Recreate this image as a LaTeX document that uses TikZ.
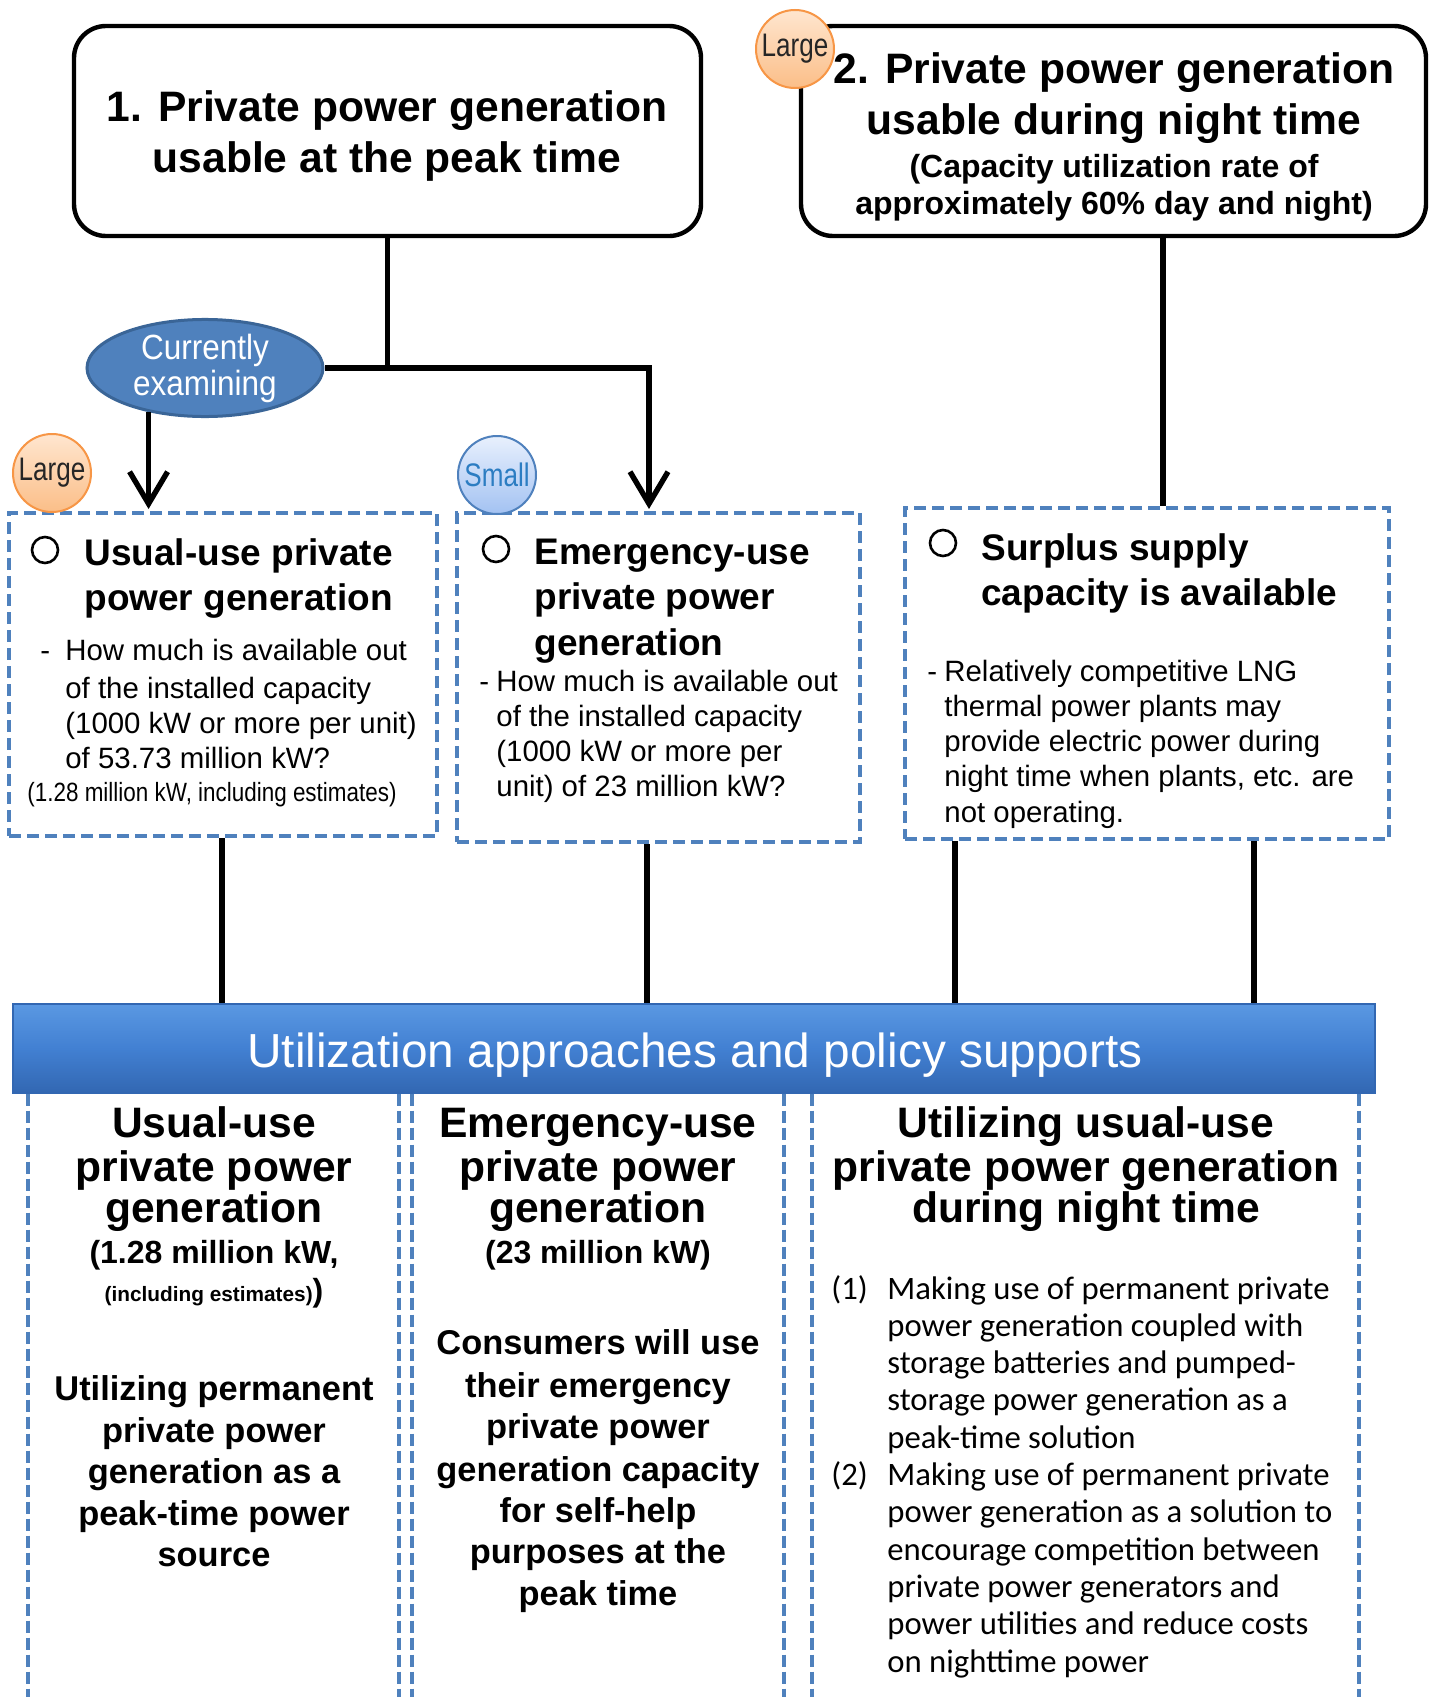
\documentclass[tikz,border=0pt]{standalone}
\usepackage{fontspec}
\setmainfont{Liberation Sans}
\newfontfamily\narrowfont[FakeStretch=0.8]{Liberation Sans}
\newfontfamily\narrowB[FakeStretch=0.85]{Liberation Sans}
\newfontfamily\ellfont[FakeStretch=0.9]{Liberation Sans}
\newfontfamily\calfont{Carlito}
\usetikzlibrary{arrows.meta,shapes.geometric}
\definecolor{dblue}{HTML}{4F81BD}
\definecolor{eborder}{HTML}{3A6597}
\definecolor{orng}{HTML}{F79646}
\definecolor{orngtop}{HTML}{FFE6CF}
\definecolor{orngbot}{HTML}{FBBE88}
\definecolor{bluetop}{HTML}{E8F0FD}
\definecolor{bluebot}{HTML}{A3C2F2}
\definecolor{smalltxt}{HTML}{2C7DC2}
\definecolor{bantop}{HTML}{5A98E2}
\definecolor{banmid}{HTML}{4280D2}
\definecolor{banbot}{HTML}{3267B2}
\tikzset{
  title/.style={font=\fontsize{21.3pt}{25pt}\selectfont\bfseries, anchor=base, inner sep=0pt},
  subtitle/.style={font=\fontsize{16pt}{19pt}\selectfont\bfseries, anchor=base, inner sep=0pt},
  head/.style={font=\fontsize{18.5pt}{22pt}\selectfont\bfseries, anchor=base west, inner sep=0pt},
  body/.style={font=\fontsize{14.7pt}{17pt}\selectfont, anchor=base west, inner sep=0pt},
  colbody/.style={font=\fontsize{17.2pt}{20pt}\selectfont\bfseries, anchor=base, inner sep=0pt},
  listtxt/.style={font=\calfont\fontsize{16.35pt}{19pt}\selectfont, anchor=base west, inner sep=0pt},
  bigbox/.style={draw, line width=2.2pt, rounded corners=16pt, fill=white, inner sep=0pt},
  dbox/.style={draw=dblue, line width=2pt, dash pattern=on 6pt off 3pt, inner sep=0pt},
  bullet/.style={circle, draw, line width=1.3pt, minimum size=13pt, inner sep=0pt},
  conn/.style={line width=2.7pt},
  arr/.style={conn, -{Straight Barb[length=16pt,width=19pt]}, shorten >=1pt},
  coldash/.style={draw=dblue, line width=1.6pt, dash pattern=on 6pt off 2.5pt},
  sizebadge/.style={circle, minimum size=39pt, inner sep=0pt, line width=1pt,
    font=\narrowfont\fontsize{16.3pt}{18pt}\selectfont},
  large/.style={sizebadge, draw=orng, top color=orngtop, bottom color=orngbot, text=black!85},
  small/.style={sizebadge, draw=dblue, top color=bluetop, bottom color=bluebot, text=smalltxt},
}
\begin{document}
\begin{tikzpicture}[x=0.5pt,y=-0.5pt]
\useasboundingbox (0,0) rectangle (1434,1697);
\fill[white] (0,0) rectangle (1434,1697);

% coordinates for connector columns
\coordinate (xj) at (649,370);
\coordinate (x2) at (1163,0);
\coordinate (xa) at (222,0);
\coordinate (xb) at (647,0);
\coordinate (xc1) at (955,0);
\coordinate (xc2) at (1254,0);
\coordinate (bot) at (0,1697);

% top boxes
\node[bigbox, minimum width=313.5pt, minimum height=105pt] (box1) at (387.5,131) {};
\node[bigbox, minimum width=312.5pt, minimum height=105pt] (box2) at (1113.5,131) {};

% dashed boxes
\node[dbox, minimum width=214pt, minimum height=161.5pt] (boxA) at (223,674.5) {};
\node[dbox, minimum width=201.5pt, minimum height=164.5pt] (boxB) at (658.5,677.5) {};
\node[dbox, minimum width=242pt, minimum height=165.5pt] (boxC) at (1147,673.5) {};

% banner
\node[minimum width=681pt, minimum height=44.5pt, inner sep=0pt, draw=banbot, line width=0.6pt,
  top color=bantop, bottom color=banbot, middle color=banmid] (banner) at (694,1048.5) {};

% ellipse
\node[ellipse, draw=eborder, line width=1.5pt, fill=dblue, minimum width=118pt, minimum height=46pt,
  inner sep=0pt, text=white, align=center, font=\ellfont\fontsize{17.5pt}{18pt}\selectfont]
  (cur) at (205,368) {Currently\\examining};

% connectors
\draw[conn] (box1.south) |- (cur.east);
\draw[arr] (box1.south |- cur.east) -| (xj) -- (xj |- boxB.north);
\draw[arr] (cur.218) -- (cur.218 |- boxA.north);
\draw[conn] (box2.south -| x2) -- (x2 |- boxC.north);
\draw[conn] (boxA.south -| xa) -- (xa |- banner.north);
\draw[conn] (boxB.south -| xb) -- (xb |- banner.north);
\draw[conn] (boxC.south -| xc1) -- (xc1 |- banner.north);
\draw[conn] (boxC.south -| xc2) -- (xc2 |- banner.north);

% badges
\node[large] (lg1) at (52,473) {Large};
\node[large] (lg2) at (795,49) {Large};
\node[small] (sm1) at (497,475) {Small};

% column dashed lines
\foreach \cx [count=\i] in {28,399,412,784,812,1359}{
  \coordinate (cl\i) at (\cx,0);
  \draw[coldash] (banner.south -| cl\i) -- (cl\i |- bot);
}

% box 1 text
\node[title] (t1a) at (387,121) {1. Private power generation};
\node[title] (t1b) at (387,172) {usable at the peak time};
% box 2 text
\node[title] (t2a) at (1114,83) {2. Private power generation};
\node[title] (t2b) at (1114,134) {usable during night time};
\node[subtitle] (t2c) at (1114,177) {(Capacity utilization rate of};
\node[subtitle] (t2d) at (1114,214) {approximately 60\% day and night)};

% box A
\node[bullet] (oA) at (45,550) {};
\node[head] (hA1) at (84,565) {Usual-use private};
\node[head] (hA2) at (84,610) {power generation};
\node[body] (dA) at (40,660) {-};
\node[body] (bA1) at (65,660) {How much is available out};
\node[body] (bA2) at (65,698) {of the installed capacity};
\node[body] (bA3) at (65,733) {(1000 kW or more per unit)};
\node[body] (bA4) at (65,768) {of 53.73 million kW?};
\node[anchor=base west, inner sep=0pt, font=\narrowB\fontsize{13.2pt}{15pt}\selectfont] (bA5) at (27,801) {(1.28 million kW, including estimates)};

% box B
\node[bullet] (oB) at (496,549) {};
\node[head] (hB1) at (534,564) {Emergency-use};
\node[head] (hB2) at (534,609) {private power};
\node[head] (hB3) at (534,655) {generation};
\node[body] (dB) at (479,691) {-};
\node[body] (bB1) at (496,691) {How much is available out};
\node[body] (bB2) at (496,726) {of the installed capacity};
\node[body] (bB3) at (496,761) {(1000 kW or more per};
\node[body] (bB4) at (496,796) {unit) of 23 million kW?};

% box C
\node[bullet] (oC) at (943,543) {};
\node[head] (hC1) at (981,560) {Surplus supply};
\node[head] (hC2) at (981,605) {capacity is available};
\node[body] (dC) at (927,681) {-};
\node[body] (bC1) at (944,681) {Relatively competitive LNG};
\node[body] (bC2) at (944,716) {thermal power plants may};
\node[body] (bC3) at (944,751) {provide electric power during};
\node[body] (bC4) at (944,786) {night time when plants, etc. are};
\node[body] (bC5) at (944,822) {not operating.};

% banner text
\node[anchor=base, inner sep=0pt, text=white, font=\fontsize{23.9pt}{28pt}\selectfont] (bant) at (695,1067) {Utilization approaches and policy supports};

% column 1
\node[title] (c1a) at (214,1137) {Usual-use};
\node[title] (c1b) at (214,1181) {private power};
\node[title] (c1c) at (214,1222) {generation};
\node[subtitle] (c1d) at (214,1263) {(1.28 million kW,};
\node[anchor=base, inner sep=0pt, font=\bfseries] (c1e) at (214,1301) {{\fontsize{10.4pt}{12pt}\selectfont (including estimates)}{\fontsize{16pt}{18pt}\selectfont )}};
\node[colbody] (c1f) at (214,1400) {Utilizing permanent};
\node[colbody] (c1g) at (214,1442) {private power};
\node[colbody] (c1h) at (214,1483) {generation as a};
\node[colbody] (c1i) at (214,1525) {peak-time power};
\node[colbody] (c1j) at (214,1566) {source};

% column 2
\node[title] (c2a) at (598,1137) {Emergency-use};
\node[title] (c2b) at (598,1181) {private power};
\node[title] (c2c) at (598,1222) {generation};
\node[subtitle] (c2d) at (598,1263) {(23 million kW)};
\node[colbody] (c2e) at (598,1354) {Consumers will use};
\node[colbody] (c2f) at (598,1397) {their emergency};
\node[colbody] (c2g) at (598,1438) {private power};
\node[colbody] (c2h) at (598,1481) {generation capacity};
\node[colbody] (c2i) at (598,1522) {for self-help};
\node[colbody] (c2j) at (598,1563) {purposes at the};
\node[colbody] (c2k) at (598,1605) {peak time};

% column 3
\node[title] (c3a) at (1086,1137) {Utilizing usual-use};
\node[title] (c3b) at (1086,1181) {private power generation};
\node[title] (c3c) at (1086,1222) {during night time};
\node[listtxt] (n1) at (831,1299) {(1)};
\node[listtxt] (l1) at (887,1299) {Making use of permanent private};
\node[listtxt] (l2) at (887,1336.3) {power generation coupled with};
\node[listtxt] (l3) at (887,1373.6) {storage batteries and pumped-};
\node[listtxt] (l4) at (887,1410.9) {storage power generation as a};
\node[listtxt] (l5) at (887,1448.2) {peak-time solution};
\node[listtxt] (n2) at (831,1485.5) {(2)};
\node[listtxt] (l6) at (887,1485.5) {Making use of permanent private};
\node[listtxt] (l7) at (887,1522.8) {power generation as a solution to};
\node[listtxt] (l8) at (887,1560.1) {encourage competition between};
\node[listtxt] (l9) at (887,1597.4) {private power generators and};
\node[listtxt] (l10) at (887,1634.7) {power utilities and reduce costs};
\node[listtxt] (l11) at (887,1672) {on nighttime power};
\end{tikzpicture}
\end{document}
